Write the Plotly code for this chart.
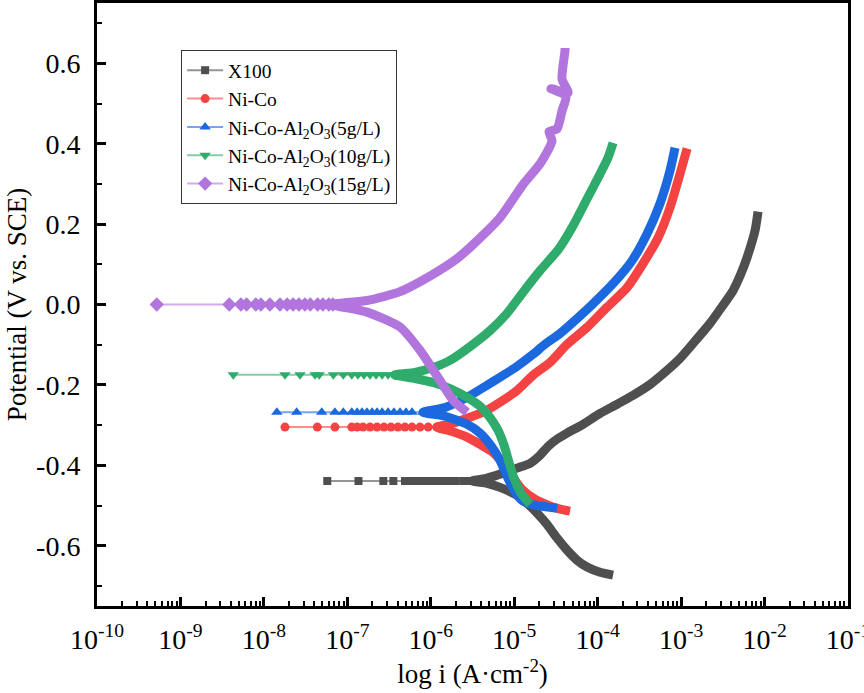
import plotly.graph_objects as go

# ---------------- data (current density A/cm^2, potential V vs SCE) ----------------
names = ["X100", "Ni-Co", "Ni-Co-Al<sub>2</sub>O<sub>3</sub>(5g/L)",
         "Ni-Co-Al<sub>2</sub>O<sub>3</sub>(10g/L)", "Ni-Co-Al<sub>2</sub>O<sub>3</sub>(15g/L)"]
colors = ["#4f4f4f", "#f54343", "#1c69df", "#2fab6b", "#b275de"]
line_colors = ["rgba(79,79,79,0.6)", "rgba(245,67,67,0.6)", "rgba(28,105,223,0.6)",
               "rgba(47,171,107,0.6)", "rgba(178,117,222,0.6)"]
symbols = ["square", "circle", "triangle-up", "triangle-down", "diamond"]
msizes = [8, 9, 10, 10, 11]

# corrosion potentials
ecorr = [-0.439, -0.305, -0.268, -0.175, 0.0]

# sparse points near Ecorr (currents)
x100_sparse_i = [5.75e-8, 1.36e-7, 2.70e-7, 3.56e-7, 4.91e-7, 5.92e-7, 7.10e-7, 8.15e-7,
                 9.8e-7, 1.16e-6, 1.36e-6, 1.61e-6, 2.0e-6, 2.5e-6, 3.12e-6]
nico_sparse_i = [1.79e-8, 4.37e-8, 7.1e-8, 1.13e-7, 1.31e-7, 1.54e-7, 1.87e-7, 2.27e-7,
                 2.75e-7, 3.33e-7, 4.04e-7, 4.91e-7, 5.96e-7, 7.43e-7, 9.3e-7, 1.18e-6]
al5_sparse_i = [1.43e-8, 2.47e-8, 4.93e-8, 7.1e-8, 8.95e-8, 1.13e-7, 1.31e-7, 1.5e-7,
                1.72e-7, 1.98e-7, 2.27e-7, 2.61e-7, 3.08e-7, 3.62e-7, 4.28e-7, 5.05e-7,
                5.96e-7, 8.07e-7]
al10_sparse_i = [4.3e-9, 1.79e-8, 2.71e-8, 4.1e-8, 4.6e-8, 6.8e-8, 8.95e-8, 1.13e-7,
                 1.34e-7, 1.58e-7, 1.87e-7, 2.21e-7, 2.61e-7, 3.08e-7, 3.7e-7]
al15_sparse_i = [5.2e-10, 3.85e-9, 5.3e-9, 6.2e-9, 8.0e-9, 9.2e-9, 1.18e-8, 1.56e-8,
                 1.9e-8, 2.24e-8, 2.63e-8, 3.1e-8, 3.6e-8, 4.4e-8, 5.1e-8, 6.0e-8, 6.7e-8]

# anodic branches (from the nose outwards)
x100_anod_i = [3.12e-6, 4.72e-6, 6.76e-6, 1.08e-5, 1.55e-5, 2.04e-5, 2.54e-5, 3.26e-5, 4.3e-5,
               6.68e-5, 1.07e-4, 1.71e-4, 2.65e-4, 4.24e-4, 6.78e-4, 9.71e-4, 1.39e-3, 2.22e-3,
               3.1e-3, 4.2e-3, 5.22e-3, 6.17e-3, 7.69e-3, 8.36e-3]
x100_anod_e = [-0.439, -0.432, -0.422, -0.407, -0.395, -0.375, -0.353, -0.335, -0.320,
               -0.298, -0.271, -0.248, -0.226, -0.199, -0.164, -0.134, -0.097, -0.047,
               -0.005, 0.035, 0.077, 0.117, 0.184, 0.231]
nico_anod_i = [1.18e-6, 1.80e-6, 2.72e-6, 4.23e-6, 6.76e-6, 1.08e-5, 1.68e-5, 2.69e-5, 4.3e-5,
               7.46e-5, 1.29e-4, 2.25e-4, 3.50e-4, 5.30e-4, 7.36e-4, 9.71e-4, 1.18e-3]
nico_anod_e = [-0.305, -0.296, -0.283, -0.268, -0.243, -0.214, -0.176, -0.144, -0.099,
               -0.057, -0.007, 0.042, 0.102, 0.166, 0.241, 0.325, 0.388]
al5_anod_i = [8.07e-7, 1.48e-6, 2.72e-6, 4.47e-6, 6.76e-6, 1.08e-5, 1.68e-5, 2.34e-5, 3.54e-5,
              5.66e-5, 8.81e-5, 1.53e-4, 2.58e-4, 3.91e-4, 5.58e-4, 7.36e-4, 8.45e-4]
al5_anod_e = [-0.268, -0.256, -0.231, -0.204, -0.181, -0.154, -0.124, -0.099, -0.072,
              -0.035, 0.002, 0.052, 0.109, 0.176, 0.251, 0.333, 0.390]
al10_anod_i = [3.7e-7, 6.47e-7, 1.06e-6, 1.70e-6, 3.21e-6, 5.13e-6, 8.2e-6, 1.27e-5, 2.04e-5,
               3.44e-5, 5.07e-5, 7.26e-5, 1.07e-4, 1.33e-4, 1.53e-4]
al10_anod_e = [-0.175, -0.169, -0.157, -0.139, -0.099, -0.065, -0.022, 0.030, 0.084,
               0.139, 0.196, 0.258, 0.325, 0.365, 0.402]
al15_anod_i = [6.7e-8, 1.72e-7, 4.28e-7, 1.06e-6, 2.06e-6, 3.21e-6, 6.76e-6, 1.27e-5, 2.04e-5,
               2.84e-5, 2.61e-5, 3.26e-5, 3.74e-5, 4.18e-5, 2.76e-5, 4.42e-5, 3.74e-5,
               4.06e-5, 4.06e-5]
al15_anod_e = [0.0, 0.010, 0.032, 0.075, 0.114, 0.149, 0.216, 0.298, 0.350,
               0.407, 0.430, 0.437, 0.482, 0.519, 0.537, 0.527, 0.561, 0.631, 0.638]

# cathodic branches (from the nose outwards)
x100_cath_i = [4.72e-6, 6.76e-6, 1.02e-5, 1.42e-5, 1.88e-5, 2.47e-5, 3.26e-5, 4.3e-5,
               5.66e-5, 7.46e-5, 1.07e-4, 1.53e-4]
x100_cath_e = [-0.445, -0.455, -0.472, -0.494, -0.519, -0.547, -0.581, -0.611,
               -0.636, -0.653, -0.666, -0.673]
nico_cath_i = [1.80e-6, 2.72e-6, 3.89e-6, 5.57e-6, 7.35e-6, 9.42e-6, 1.24e-5, 1.77e-5,
               2.54e-5, 3.54e-5, 4.67e-5]
nico_cath_e = [-0.316, -0.330, -0.348, -0.368, -0.395, -0.427, -0.460, -0.484,
               -0.499, -0.509, -0.514]
al5_cath_i = [1.48e-6, 2.72e-6, 3.89e-6, 5.42e-6, 6.76e-6, 8.2e-6, 9.95e-6, 1.24e-5,
              1.77e-5, 2.54e-5, 3.26e-5]
al5_cath_e = [-0.278, -0.298, -0.320, -0.355, -0.388, -0.427, -0.462, -0.487,
              -0.499, -0.504, -0.507]
al10_cath_i = [6.47e-7, 1.06e-6, 1.70e-6, 2.72e-6, 3.89e-6, 5.13e-6, 6.4e-6, 7.55e-6,
               8.67e-6, 9.95e-6, 1.21e-5, 1.55e-5]
al10_cath_e = [-0.184, -0.194, -0.209, -0.231, -0.253, -0.281, -0.313, -0.350,
               -0.393, -0.432, -0.470, -0.497]
al15_cath_i = [1.72e-7, 4.28e-7, 7.43e-7, 1.29e-6, 1.85e-6, 2.72e-6]
al15_cath_e = [-0.019, -0.056, -0.114, -0.189, -0.238, -0.268]

y_tickvals = [-0.6, -0.4, -0.2, 0.0, 0.2, 0.4, 0.6]
y_ticktext = ["-0.6", "-0.4", "-0.2", "0.0", "0.2", "0.4", "0.6"]
x_tickvals = [1e-10, 1e-9, 1e-8, 1e-7, 1e-6, 1e-5, 1e-4, 1e-3, 1e-2, 1e-1]
x_ticktext = ["10<sup>-10</sup>", "10<sup>-9</sup>", "10<sup>-8</sup>", "10<sup>-7</sup>",
              "10<sup>-6</sup>", "10<sup>-5</sup>", "10<sup>-4</sup>", "10<sup>-3</sup>",
              "10<sup>-2</sup>", "10<sup>-1</sup>"]

sparse = [x100_sparse_i, nico_sparse_i, al5_sparse_i, al10_sparse_i, al15_sparse_i]
anod_i = [x100_anod_i, nico_anod_i, al5_anod_i, al10_anod_i, al15_anod_i]
anod_e = [x100_anod_e, nico_anod_e, al5_anod_e, al10_anod_e, al15_anod_e]
cath_i = [x100_cath_i, nico_cath_i, al5_cath_i, al10_cath_i, al15_cath_i]
cath_e = [x100_cath_e, nico_cath_e, al5_cath_e, al10_cath_e, al15_cath_e]

FONT = "Liberation Serif"
fig = go.Figure()
for k in range(5):
    bx = cath_i[k][::-1] + anod_i[k]
    by = cath_e[k][::-1] + anod_e[k]
    fig.add_trace(go.Scatter(
        x=bx, y=by, mode="lines", line=dict(color=colors[k], width=9, shape="spline", smoothing=0.6),
        legendgroup=str(k), showlegend=False, hoverinfo="skip"))
    fig.add_trace(go.Scatter(
        x=sparse[k], y=[ecorr[k]] * len(sparse[k]), mode="lines+markers", name=names[k],
        line=dict(color=line_colors[k], width=2),
        marker=dict(symbol=symbols[k], size=msizes[k], color=colors[k], line=dict(width=0)),
        legendgroup=str(k)))

axis_common = dict(showline=True, linecolor="black", linewidth=3, mirror=True,
                   ticks="inside", tickcolor="black", tickwidth=3, ticklen=9,
                   showgrid=False, zeroline=False, automargin=False,
                   ticklabeloverflow="allow",
                   tickfont=dict(family=FONT, size=28, color="black"))

fig.update_xaxes(type="log", range=[-10, -1], tickmode="array", tickvals=x_tickvals,
                 ticktext=x_ticktext,
                 minor=dict(ticks="inside", ticklen=5, tickwidth=2, tickcolor="black", dtick="D1"),
                 title=dict(text="log i (A·cm<sup>-2</sup>)", font=dict(family=FONT, size=27, color="black"),
                            standoff=9),
                 ticklabelstandoff=6,
                 **axis_common)
fig.update_yaxes(range=[-0.75, 0.75], tickmode="array", tickvals=y_tickvals, ticktext=y_ticktext,
                 minor=dict(ticks="inside", ticklen=5, tickwidth=2, tickcolor="black", dtick=0.1, tick0=0),
                 title=dict(text="Potential (V vs. SCE)", font=dict(family=FONT, size=27, color="black"),
                            standoff=2),
                 ticklabelstandoff=8,
                 **axis_common)

fig.update_layout(
    width=864, height=693,
    margin=dict(l=97, r=16, t=3, b=87),
    paper_bgcolor="white", plot_bgcolor="white",
    showlegend=True,
    legend=dict(x=0.112, y=0.922, xanchor="left", yanchor="top",
                bordercolor="#333333", borderwidth=1, bgcolor="rgba(255,255,255,0)",
                font=dict(family=FONT, size=19.5, color="black"),
                itemwidth=36, tracegroupgap=0),
)
fig.write_html("out.html", config={"displayModeBar": False},
               post_script="document.body.style.margin='0';document.body.style.overflow='hidden';")
